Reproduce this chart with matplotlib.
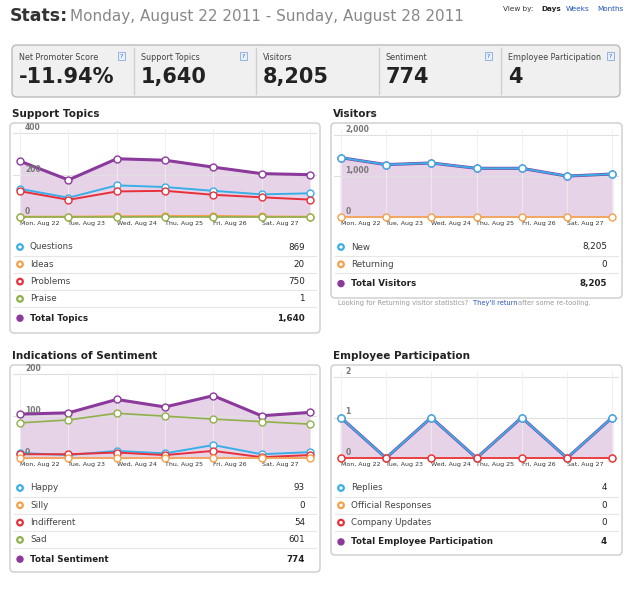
import matplotlib
matplotlib.use("Agg")
import matplotlib.pyplot as plt
from matplotlib.patches import FancyBboxPatch, Rectangle

W, H = 633, 600
days = ["Mon, Aug 22", "Tue, Aug 23", "Wed, Aug 24", "Thu, Aug 25", "Fri, Aug 26", "Sat, Aug 27", ""]

kpi_labels = ["Net Promoter Score", "Support Topics", "Visitors", "Sentiment", "Employee Participation"]
kpi_values = ["-11.94%", "1,640", "8,205", "774", "4"]

topics_total = [266, 177, 278, 271, 238, 207, 202]
topics_questions = [134, 92, 151, 143, 125, 108, 113]
topics_problems = [123, 82, 122, 125, 106, 94, 83]
topics_ideas = [2, 2, 4, 5, 6, 3, 2]
topics_praise = [0, 0, 0, 1, 0, 0, 0]

visitors_total = [1450, 1280, 1320, 1190, 1190, 1000, 1050]
visitors_new = [1450, 1280, 1320, 1190, 1190, 1000, 1050]
visitors_returning = [0, 0, 0, 0, 0, 0, 0]

sent_total = [105, 108, 140, 122, 149, 101, 109]
sent_sad = [84, 91, 107, 100, 93, 87, 81]
sent_happy = [12, 7, 17, 11, 31, 9, 14]
sent_indiff = [9, 9, 13, 7, 17, 2, 7]
sent_silly = [0, 0, 0, 0, 0, 0, 0]

emp_total = [1, 0, 1, 0, 1, 0, 1]
emp_replies = [1, 0, 1, 0, 1, 0, 1]
emp_official = [0, 0, 0, 0, 0, 0, 0]
emp_updates = [0, 0, 0, 0, 0, 0, 0]

PURPLE, BLUE, ORANGE, RED, GREEN = "#8b3a9c", "#3aaee6", "#f5a04a", "#e8303a", "#8fb04a"

fig = plt.figure(figsize=(W/100, H/100), dpi=100)
fig.patch.set_facecolor("white")
bg = fig.add_axes([0, 0, 1, 1]); bg.set_xlim(0, W); bg.set_ylim(H, 0); bg.axis("off")

def T(x, y, s, **kw):
    bg.text(x, y, s, va="center", **kw)

T(10, 16, "Stats:", fontsize=12.5, fontweight="bold", color="#333333")
T(70, 16, "Monday, August 22 2011 - Sunday, August 28 2011", fontsize=11, color="#888888")
T(503, 9, "View by:", fontsize=5.2, color="#333333")
T(541, 9, "Days", fontsize=5.2, color="#222222", fontweight="bold")
T(566, 9, "Weeks", fontsize=5.2, color="#2255bb")
T(597, 9, "Months", fontsize=5.2, color="#2255bb")

bg.add_patch(FancyBboxPatch((12, 45), 608, 52, boxstyle="round,pad=0,rounding_size=5",
                            fc="#f0f0f0", ec="#bbbbbb", lw=1))
xs = [12, 134, 256, 379, 501, 620]
for i, (l, v) in enumerate(zip(kpi_labels, kpi_values)):
    x0 = xs[i]
    if i > 0:
        bg.plot([x0, x0], [48, 94], color="#d0d0d0", lw=1)
    T(x0 + 7, 57, l, fontsize=5.8, color="#444444")
    T(x0 + 7, 77, v, fontsize=15, fontweight="bold", color="#222222")
    if i in (0, 1, 3, 4):
        bg.add_patch(Rectangle((x0 + 106, 52), 7, 8, fc="#e8f0ff", ec="#88aadd", lw=0.6))
        T(x0 + 109.5, 56, "?", fontsize=4.5, color="#3366cc", ha="center")

def panel(x0, y0, w, h, title, chart_h, ymax, yticks, series, legend, total_label, total_val):
    T(x0 + 2, y0 - 9, title, fontsize=7.5, fontweight="bold", color="#222222")
    bg.add_patch(FancyBboxPatch((x0, y0), w, h, boxstyle="round,pad=0,rounding_size=4",
                                fc="white", ec="#cccccc", lw=1))
    ax = fig.add_axes([(x0 + 3) / W, 1 - (y0 + 6 + chart_h) / H, (w - 6) / W, chart_h / H])
    x = list(range(7))
    tot = series[0][0]
    ax.fill_between(x, 0, tot, color="#e6d3e8", zorder=0)
    for vals, col, lw in series:
        ax.plot(x, vals, color=col, lw=lw, marker="o", ms=5, mfc="white", mec=col, mew=1, zorder=3, clip_on=False)
    ax.set_xlim(-0.15, 6.15); ax.set_ylim(0, ymax)
    ax.set_xticks(x); ax.set_xticklabels(days, fontsize=4.5, color="#333333", ha="left")
    ax.tick_params(length=0, pad=3)
    ax.set_yticks([])
    for t in yticks:
        ax.axhline(t, color="#e0e0e0", lw=0.8, zorder=0)
        ax.text(0.1, t + ymax * 0.012, str(t) if t < 1000 else f"{t:,}", fontsize=5.5, color="#777777", fontweight="bold", va="bottom")
    for xi in x:
        ax.axvline(xi, color="#eeeeee", lw=0.6, zorder=0)
    for s in ax.spines.values(): s.set_visible(False)
    ax.set_facecolor("white")
    ly = y0 + chart_h + 36
    for (lab, col, val) in legend:
        bg.add_patch(plt.Circle((x0 + 10, ly), 2.8, fc="white", ec=col, lw=1.6))
        T(x0 + 20, ly, lab, fontsize=6.3, color="#444444")
        T(x0 + w - 15, ly, val, fontsize=6.3, color="#222222", ha="right")
        bg.plot([x0 + 4, x0 + w - 4], [ly + 8.5, ly + 8.5], color="#e6e6e6", lw=0.8)
        ly += 17.3
    ly += 2
    bg.add_patch(plt.Circle((x0 + 10, ly), 3, fc=PURPLE, ec=PURPLE))
    T(x0 + 20, ly, total_label, fontsize=6.3, fontweight="bold", color="#222222")
    T(x0 + w - 15, ly, total_val, fontsize=6.3, fontweight="bold", color="#222222", ha="right")

panel(10, 123, 310, 210, "Support Topics", 88, 420, [0, 200, 400],
      [(topics_total, PURPLE, 2.2), (topics_questions, BLUE, 1.4), (topics_problems, RED, 1.4),
       (topics_ideas, ORANGE, 1.2), (topics_praise, GREEN, 1.2)],
      [("Questions", BLUE, "869"), ("Ideas", ORANGE, "20"), ("Problems", RED, "750"), ("Praise", GREEN, "1")],
      "Total Topics", "1,640")
panel(331, 123, 291, 175, "Visitors", 88, 2150, [0, 1000, 2000],
      [(visitors_total, PURPLE, 2.2), (visitors_new, BLUE, 1.4), (visitors_returning, ORANGE, 1.2)],
      [("New", BLUE, "8,205"), ("Returning", ORANGE, "0")],
      "Total Visitors", "8,205")
T(338, 303, "Looking for Returning visitor statistics?", fontsize=4.8, color="#999999")
T(473, 303, "They'll return", fontsize=4.8, color="#2255bb")
T(518, 303, "after some re-tooling.", fontsize=4.8, color="#999999")
panel(10, 365, 310, 207, "Indications of Sentiment", 87, 208, [0, 100, 200],
      [(sent_total, PURPLE, 2.2), (sent_sad, GREEN, 1.2), (sent_happy, BLUE, 1.4),
       (sent_indiff, RED, 1.4), (sent_silly, ORANGE, 1.2)],
      [("Happy", BLUE, "93"), ("Silly", ORANGE, "0"), ("Indifferent", RED, "54"), ("Sad", GREEN, "601")],
      "Total Sentiment", "774")
panel(331, 365, 291, 190, "Employee Participation", 87, 2.15, [0, 1, 2],
      [(emp_total, PURPLE, 2.2), (emp_replies, BLUE, 1.4), (emp_official, ORANGE, 1.2), (emp_updates, RED, 1.2)],
      [("Replies", BLUE, "4"), ("Official Responses", ORANGE, "0"), ("Company Updates", RED, "0")],
      "Total Employee Participation", "4")

fig.savefig("out.png", dpi=100, facecolor="white")
